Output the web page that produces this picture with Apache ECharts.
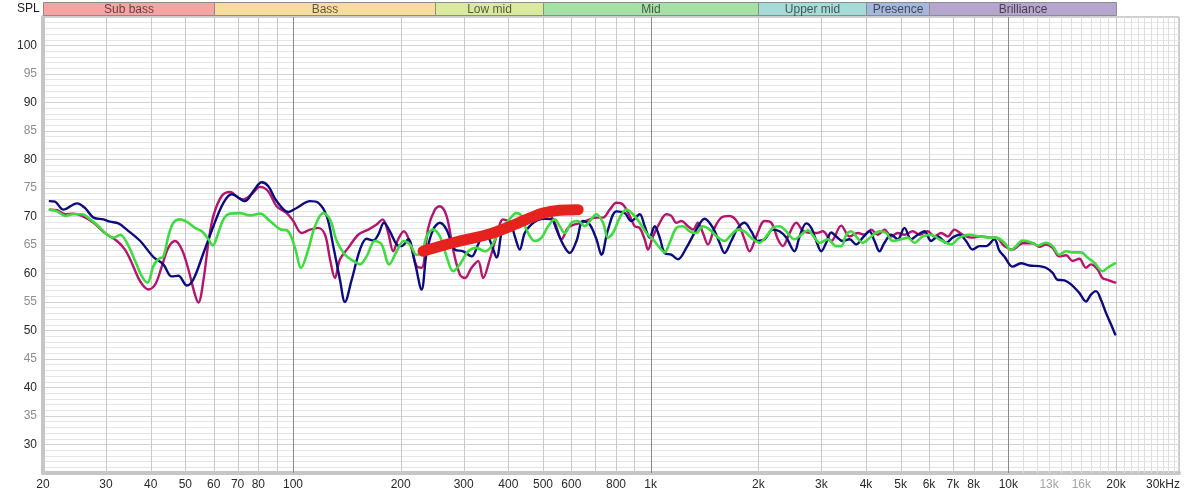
<!DOCTYPE html>
<html><head><meta charset="utf-8">
<script src="https://cdn.jsdelivr.net/npm/echarts/dist/echarts.min.js"></script>
<style>html,body{margin:0;padding:0;background:#fff}#c{width:1200px;height:496px}</style>
</head><body><div id="c"></div>
<script>
// ---- data ----
const bandNames = ['Sub bass','Bass','Low mid','Mid','Upper mid','Presence','Brilliance'];
const bandEdges = [20,60,250,500,2000,4000,6000,20000];
const bandColors = ['#f7a3a3','#f8dc9c','#d9e99e','#a4e2a8','#a6dcd7','#a6b7dd','#b6a5cd'];

const xTickFreqs = [20,30,40,50,60,70,80,100,200,300,400,500,600,800,1000,2000,3000,4000,5000,6000,7000,8000,10000,13000,16000,20000,30000];
const xTickLabels = ['20','30','40','50','60','70','80','100','200','300','400','500','600','800','1k','2k','3k','4k','5k','6k','7k','8k','10k','13k','16k','20k','30kHz'];
const xMinorTickFreqs = [13000,16000];
const xGridFreqs = [30,40,50,60,70,80,90,100,200,300,400,500,600,700,800,900,1000,2000,3000,4000,5000,6000,7000,8000,9000,10000,
  11000,12000,13000,14000,15000,16000,17000,18000,19000,20000,21000,22000,23000,24000,25000,26000,27000,28000,29000];

const navy = [[20.9,72.7],[21.6,72.6],[22.8,71.2],[24.9,72.3],[26.2,71.5],[27.7,69.8],[29.5,69.5],[30.8,69.1],[32.5,68.8],[34.3,67.7],[37.4,65.7],[40.7,62.9],[43.4,61.6],[45.8,59.5],[47.8,59.6],[50.5,57.9],[52.6,58.9],[56.2,63.6],[59.9,68.3],[63.9,72.4],[67.4,73.9],[73.4,72.7],[77.4,74.4],[81.8,76.0],[85.3,75.3],[90.0,72.7],[97.0,70.8],[102.4,71.5],[111.6,72.7],[117.7,72.4],[124.2,70.1],[129.6,64.8],[135.3,58.9],[139.7,55.0],[145.9,58.9],[153.9,64.2],[160.6,66.1],[167.6,65.8],[173.1,66.8],[179.6,68.9],[186.6,67.4],[194.9,65.1],[201.2,64.8],[209.9,66.0],[219.2,61.9],[228.8,57.2],[236.3,63.6],[246.5,67.7],[257.4,68.9],[268.7,67.7],[283.5,64.2],[299.1,63.9],[315.6,63.0],[329.3,65.1],[343.8,67.4],[358.9,65.1],[370.7,62.8],[386.7,68.3],[403.7,68.9],[417,66.5],[430.6,64.2],[444.6,67.1],[464.3,68.6],[484.4,69.4],[505.8,69.6],[528.1,69.5],[545.4,67.7],[568.9,65.1],[593.9,63.6],[620.1,65.7],[647,69.2],[675.5,68.6],[705.3,66.0],[728.4,63.3],[759.9,67.7],[802.1,70.9],[846.1,70.6],[883.4,69.2],[931.8,70.4],[962.1,68.3],[993.6,66.3],[1026,68.3],[1060,66.3],[1094,63.6],[1142,63.3],[1192,62.5],[1258,64.5],[1342,67.7],[1415,69.6],[1493,68.0],[1558,65.4],[1609,63.6],[1680,65.7],[1754,68.0],[1830,68.9],[1911,67.4],[1994,65.7],[2082,66.0],[2196,67.7],[2292,67.4],[2393,66.3],[2525,63.9],[2608,66.5],[2723,68.8],[2812,68.0],[2904,65.7],[2999,63.9],[3096,65.4],[3198,67.2],[3302,66.5],[3445,65.7],[3597,66.0],[3754,65.1],[3918,66.3],[4091,67.4],[4225,65.7],[4363,63.9],[4505,65.4],[4703,66.8],[4907,66.0],[5124,68.0],[5350,66.0],[5580,66.8],[5828,67.4],[6084,65.7],[6347,66.5],[6699,65.4],[6989,66.3],[7297,66.8],[7618,65.7],[7948,64.2],[8299,64.8],[8664,64.8],[9140,66.0],[9437,64.0],[9746,63.0],[10280,61.2],[10850,61.8],[11450,61.4],[12210,61.3],[12740,61.0],[13300,60.1],[13730,58.9],[14340,58.8],[14970,58.1],[15790,56.6],[16480,55.1],[17020,56.3],[17580,56.9],[18150,55.4],[18750,53.1],[19360,51.1],[19900,49.3]];

const magenta = [[20.9,71.2],[21.9,71.1],[23.1,70.4],[24.3,70.5],[25.7,70.1],[27.7,68.9],[29.8,67.1],[32.2,65.7],[33.9,64.2],[35.4,61.9],[37.4,58.6],[39.4,57.2],[41.2,58.1],[43.0,61.3],[44.8,64.5],[46.8,65.7],[48.9,64.2],[51.0,60.7],[53.2,56.3],[54.4,54.9],[56.2,58.9],[58.0,65.4],[59.9,70.1],[63.2,73.6],[66.7,74.3],[70.3,73.3],[72.6,73.0],[76.6,73.9],[80.9,75.2],[85.3,74.4],[90.0,71.8],[96.0,70.6],[100.2,69.2],[105.8,67.1],[111.6,67.7],[117.7,68.0],[122.9,66.8],[126.9,62.5],[131.0,59.2],[135.3,62.5],[142.7,64.5],[152.2,66.8],[162.3,67.7],[171.3,68.6],[178.1,69.5],[184.6,67.1],[190.6,63.9],[196.8,66.0],[204.2,67.4],[212.3,65.4],[221.6,61.3],[228.8,61.0],[238.8,68.0],[249.3,71.2],[257.4,71.8],[268.7,70.1],[280.3,64.2],[292.8,59.8],[302.3,59.2],[315.6,61.0],[329.3,62.2],[340.1,59.2],[355.0,62.5],[370.7,66.5],[386.7,69.5],[399.3,69.2],[417.0,68.9],[439.8,69.2],[464.3,69.8],[489.7,70.1],[516.7,70.4],[539.4,68.9],[563.2,66.0],[587.5,68.0],[613.3,68.6],[640.3,68.9],[675.5,69.5],[705.3,69.8],[735.9,69.8],[768.4,71.2],[802.1,72.4],[836.8,72.1],[873.7,70.1],[902.3,68.3],[931.8,68.0],[962.1,66.0],[982.8,64.2],[1015,66.5],[1060,68.9],[1106,70.4],[1142,70.1],[1180,68.9],[1218,69.2],[1271,68.3],[1313,67.7],[1356,68.9],[1400,67.1],[1446,65.1],[1509,68.0],[1576,69.8],[1663,70.1],[1754,68.9],[1830,66.0],[1890,63.9],[1974,66.5],[2082,69.2],[2174,68.9],[2268,66.0],[2342,64.8],[2445,67.1],[2553,68.9],[2664,67.5],[2751,67.2],[2904,67.1],[3029,67.4],[3198,65.7],[3410,68.4],[3597,66.5],[3794,67.1],[3962,66.8],[4137,67.7],[4315,66.8],[4505,67.7],[4703,66.5],[4907,67.1],[5124,66.8],[5404,67.4],[5641,66.8],[5952,67.4],[6214,66.5],[6486,67.1],[6768,66.5],[7066,67.7],[7453,66.8],[7866,66.3],[8389,66.5],[8948,66.3],[9239,66.3],[9746,64.8],[10280,64.2],[10960,65.3],[11690,65.3],[12210,64.7],[12740,65.1],[13300,64.5],[13880,63.0],[14500,63.2],[15120,62.2],[15790,62.6],[16480,61.0],[17020,61.6],[17760,60.7],[18340,59.2],[18940,58.9],[19900,58.4]];

const green = [[20.9,71.2],[21.9,70.9],[23.1,70.1],[24.3,70.4],[25.7,70.4],[27.1,69.5],[28.6,68.3],[30.2,66.8],[31.5,66.3],[32.9,66.8],[34.3,65.4],[36.2,62.2],[37.8,59.5],[39.2,58.4],[40.7,61.3],[42.0,62.5],[43.4,63.0],[44.8,66.5],[46.3,68.9],[48.3,69.5],[51.0,68.9],[53.2,68.0],[55.6,67.4],[58.0,66.0],[59.7,64.9],[61.2,66.3],[63.9,69.5],[66.7,70.5],[71.1,70.6],[75.8,70.2],[80.9,70.5],[86.2,69.2],[91.9,67.8],[97.0,67.4],[101.3,64.5],[105.3,61.0],[110.3,64.2],[115.2,68.3],[121.5,70.6],[126.9,69.5],[132.5,65.7],[139.7,63.3],[147.4,62.2],[153.9,61.6],[160.6,63.0],[169.5,65.7],[176.9,65.1],[185.8,61.6],[194.9,63.9],[204.2,65.7],[212.3,65.1],[221.6,63.3],[229,63.5],[236.3,66.5],[246.5,67.7],[257.4,66.5],[268.7,63.0],[280.3,60.4],[292.8,61.6],[308.8,63.9],[326.0,64.5],[343.8,63.9],[358.9,64.8],[378.6,67.7],[399.3,69.2],[421.5,70.6],[435.3,70.1],[449.5,67.7],[474.2,65.7],[495.1,66.3],[516.7,68.3],[539.4,69.5],[556.9,68.3],[575.2,67.1],[600.4,68.9],[626.6,69.2],[654.2,68.3],[675.5,69.2],[705.3,70.4],[735.9,68.9],[759.9,66.3],[784.5,67.1],[819.4,69.8],[855.3,71.2],[892.4,70.4],[931.8,68.9],[972.7,67.1],[1015,66.0],[1060,64.5],[1094,63.7],[1130,65.4],[1180,68.0],[1231,68.3],[1285,67.4],[1342,67.1],[1400,68.3],[1462,67.7],[1542,66.3],[1609,65.7],[1680,66.8],[1754,67.7],[1830,67.4],[1931,66.0],[2016,65.4],[2105,66.5],[2196,68.0],[2292,68.3],[2393,67.4],[2525,66.0],[2636,66.8],[2751,67.6],[2872,66.3],[2966,65.4],[3129,66.0],[3302,64.8],[3410,64.8],[3521,66.8],[3636,67.4],[3754,66.5],[3918,65.4],[4137,66.5],[4363,67.4],[4555,67.1],[4752,65.7],[5016,66.0],[5234,66.3],[5463,65.4],[5763,66.5],[6084,66.8],[6416,66.0],[6917,65.1],[7297,66.3],[7781,66.8],[8299,66.5],[8851,66.3],[9239,66.3],[9746,65.4],[10170,64.1],[10510,64.8],[10960,65.8],[11570,65.5],[12070,64.9],[12740,65.4],[13300,64.8],[13880,63.3],[14500,63.9],[15120,63.7],[15960,63.7],[16650,62.8],[17390,61.9],[18340,60.4],[18940,61.0],[19900,61.8]];

const redMark = [[231,63.9],[280,65.4],[348,66.8],[395,68.0],[450,69.5],[500,70.6],[557,71.1],[627,71.2]];

// ---- chart ----
const Y_MIN = 25, Y_MAX = 105;
const FONT = '"Liberation Sans", Arial, sans-serif';
const chart = echarts.init(document.getElementById('c'), null, {renderer:'canvas'});

const seriesLine = (name, data, color, width, z) => ({
  name, type:'line', data, xAxisIndex:0, yAxisIndex:0, showSymbol:false, symbol:'none',
  smooth:0.35, z, clip:true, silent:true,
  lineStyle:{color, width, cap:'round', join:'round'}
});

chart.setOption({
  animation:false,
  backgroundColor:'#ffffff',
  title:{text:'SPL', left:17, top:3, padding:0,
    textStyle:{fontSize:12, fontWeight:'normal', color:'#222', fontFamily:FONT}},
  grid:[
    {left:43, right:21, top:17, bottom:23, show:true, backgroundColor:'#fff',
     borderColor:'#9c9c9c', borderWidth:1, containLabel:false, outerBoundsMode:'none'},
    {left:43, right:21, top:2, height:13, show:false, containLabel:false, outerBoundsMode:'none'}
  ],
  xAxis:[
    {type:'log', logBase:10, min:20, max:30000, gridIndex:0,
     axisLine:{show:true, onZero:false, lineStyle:{color:'#c6c6c6', width:4}},
     axisTick:{show:false}, axisLabel:{show:false}, splitLine:{show:false}},
    {type:'log', logBase:10, min:20, max:30000, gridIndex:1, show:false}
  ],
  yAxis:[
    {type:'value', min:Y_MIN, max:Y_MAX, interval:5, gridIndex:0,
     axisLine:{show:true, onZero:false, lineStyle:{color:'#c6c6c6', width:4}},
     axisTick:{show:false},
     axisLabel:{margin:6, showMinLabel:false, showMaxLabel:false,
       formatter:v => (v % 10 === 0 ? '{a|' + v + '}' : '{b|' + v + '}'),
       rich:{a:{color:'#2a2a2a', fontSize:12, fontFamily:FONT}, b:{color:'#8e8e8e', fontSize:12, fontFamily:FONT}}},
     splitLine:{show:true, lineStyle:{color:'#d2d2d2', width:1}},
     minorTick:{show:false, splitNumber:5},
     minorSplitLine:{show:true, lineStyle:{color:'#e6e6e6', width:1}}},
    {type:'value', min:0, max:1, gridIndex:1, show:false}
  ],
  series:[
    {type:'custom', name:'xgrid', xAxisIndex:0, yAxisIndex:0, z:1, silent:true, clip:false,
     data:xGridFreqs.map(f => [f, Y_MIN]), encode:{x:0, y:1},
     renderItem:(params, api) => {
       const f = api.value(0);
       const t = api.coord([f, Y_MAX]), b = api.coord([f, Y_MIN]);
       const x = Math.round(t[0]) + 0.5;
       let color = '#c9c9c9';
       if (f === 100 || f === 1000 || f === 10000) color = '#8a8a8a';
       else if (f > 10000 && f !== 20000) color = '#dedede';
       return {type:'line', shape:{x1:x, y1:t[1], x2:x, y2:b[1]}, style:{stroke:color, lineWidth:1}};
     }},
    {type:'custom', name:'xlabels', xAxisIndex:0, yAxisIndex:0, z:5, silent:true, clip:false,
     data:xTickFreqs.map(f => [f, Y_MIN]), encode:{x:0, y:1},
     renderItem:(params, api) => {
       const f = api.value(0);
       const p = api.coord([f, Y_MIN]);
       const i = params.dataIndex;
       const last = i === xTickFreqs.length - 1;
       return {type:'text', x: p[0] + (last ? 1 : 0), y: p[1] + 6,
         style:{text:xTickLabels[i], align: last ? 'right' : 'center', verticalAlign:'top',
           fill: xMinorTickFreqs.includes(f) ? '#a4a4a4' : '#2a2a2a', font:'12px ' + FONT}};
     }},
    {type:'custom', name:'bands', xAxisIndex:1, yAxisIndex:1, z:5, silent:true, clip:false,
     data:bandNames.map((n, i) => [bandEdges[i], bandEdges[i + 1], 0, 1]), encode:{x:[0, 1], y:[2, 3]},
     renderItem:(params, api) => {
       const i = params.dataIndex;
       const p0 = api.coord([api.value(0), 1]), p1 = api.coord([api.value(1), 0]);
       const x0 = Math.round(p0[0]) + 0.5, x1 = Math.round(p1[0]) + 0.5;
       const y0 = Math.round(p0[1]) + 0.5, y1 = Math.round(p1[1]) + 0.5;
       return {type:'group', children:[
         {type:'rect', shape:{x:x0, y:y0, width:x1 - x0, height:y1 - y0},
          style:{fill:bandColors[i], stroke:'#8c8c8c', lineWidth:1}},
         {type:'text', x:(x0 + x1) / 2, y:(y0 + y1) / 2 + 0.5,
          style:{text:bandNames[i], align:'center', verticalAlign:'middle', fill:'rgba(0,0,0,0.62)', font:'12px ' + FONT}}
       ]};
     }},
    seriesLine('Magenta', magenta, '#b5156c', 2.4, 3),
    seriesLine('Navy', navy, '#0c0c7e', 2.4, 3),
    seriesLine('Green', green, '#3fdc3f', 2.6, 3),
    seriesLine('Marker', redMark, '#e5221d', 11, 4)
  ]
});
</script>
</body></html>
